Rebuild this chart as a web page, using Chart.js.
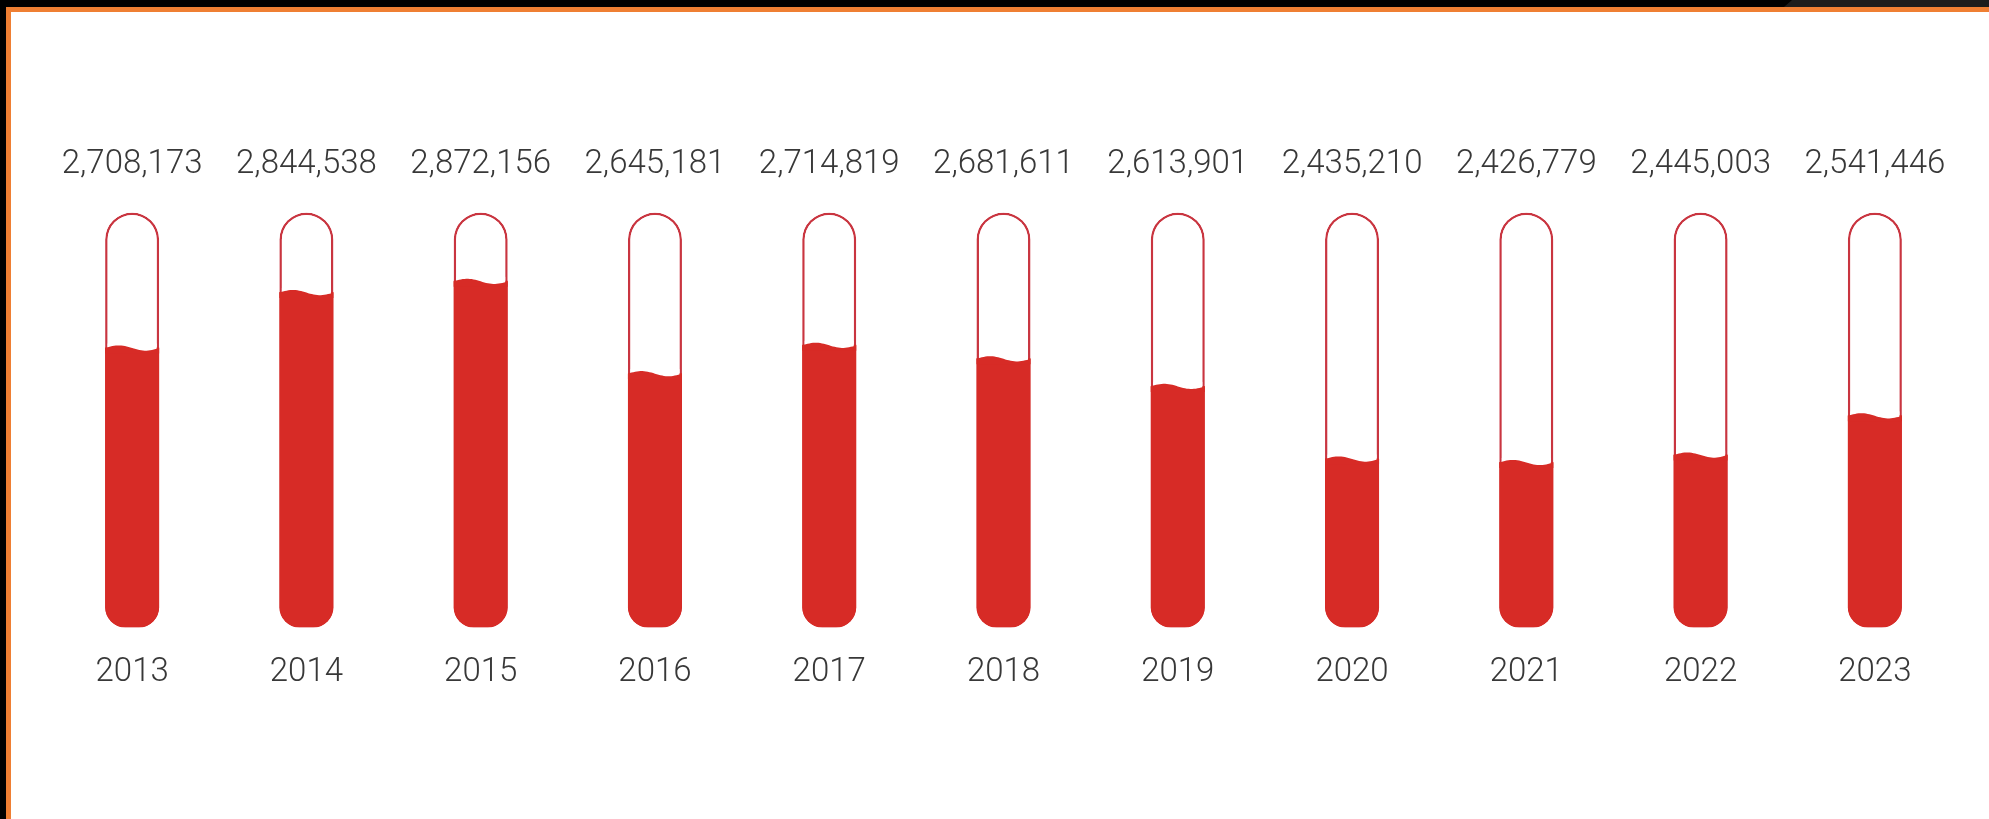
<!DOCTYPE html>
<html>
<head>
<meta charset="utf-8">
<script src="https://cdn.jsdelivr.net/npm/chart.js@4"></script>
<style>
    html, body { margin: 0; padding: 0; background: #000; width: 1989px; height: 819px; overflow: hidden; }
    #corner { position: absolute; top: 0; right: 0; width: 205px; height: 7px; background: #1c1c1c;
        clip-path: polygon(8px 0, 100% 0, 100% 100%, 0 100%); }
    #frame { position: absolute; left: 6px; top: 7px; width: 1978px; height: 807px; background: #fff;
        border-left: 5px solid #ef7f33; border-top: 5px solid #ef7f33; }
    #frame canvas { display: block; }
</style>
</head>
<body>
<div id="corner"></div>
<div id="frame"><canvas id="tubeChart" width="1978" height="807"></canvas></div>
<script>
const years = ["2013", "2014", "2015", "2016", "2017", "2018", "2019", "2020", "2021", "2022", "2023"];
const visitors = [2708173, 2844538, 2872156, 2645181, 2714819, 2681611, 2613901, 2435210, 2426779, 2445003, 2541446];
const valueLabels = visitors.map(v => v.toLocaleString("en-US"));

// tube goes from the bottom of the scale to its top
const scaleMin = 2020000;
const scaleMax = 3040000;
const tubeTops = years.map(() => scaleMax);

const fillRed = "#d72b26";
const tubeRed = "#c93540";
const textGrey = "#383838";
const tubeBorder = 2.5;

// paints a small wave on the liquid surface of every filled bar
const wavePlugin = {
    id: "wave",
    afterDatasetsDraw(chart) {
        const ctx = chart.ctx;
        chart.getDatasetMeta(0).data.forEach(bar => {
            const left = bar.x - bar.width / 2;
            const w = bar.width;
            ctx.save();
            ctx.fillStyle = "#fff";
            ctx.fillRect(left + tubeBorder, bar.y - 4, w - tubeBorder * 2, 8.5);
            ctx.beginPath();
            ctx.moveTo(left, bar.y + 6);
            for (let i = 0; i <= 30; i++) {
                const t = i / 30;
                ctx.lineTo(left + t * w, bar.y + 0.5 - 2.6 * Math.sin(2 * Math.PI * t));
            }
            ctx.lineTo(left + w, bar.y + 6);
            ctx.closePath();
            ctx.fillStyle = fillRed;
            ctx.fill();
            ctx.restore();
        });
    }
};

const tickFont = { family: "Roboto", size: 33, weight: 300, lineHeight: 1.2 };

new Chart(document.getElementById("tubeChart"), {
    type: "bar",
    data: {
        labels: years,
        datasets: [{
            data: visitors,
            base: scaleMin,
            backgroundColor: fillRed,
            borderWidth: 0,
            borderSkipped: false,
            borderRadius: { topLeft: 0, topRight: 0, bottomLeft: 20, bottomRight: 20 },
            grouped: false,
            barPercentage: 0.31,
            categoryPercentage: 1
        }, {
            data: tubeTops,
            base: scaleMin,
            backgroundColor: "#fff",
            borderColor: tubeRed,
            borderWidth: tubeBorder,
            borderSkipped: false,
            borderRadius: { topLeft: 27, topRight: 27, bottomLeft: 20, bottomRight: 20 },
            grouped: false,
            barPercentage: 0.31,
            categoryPercentage: 1
        }]
    },
    options: {
        responsive: false,
        animation: false,
        layout: { padding: { top: 105, bottom: 101, left: 34, right: 27 } },
        plugins: { legend: { display: false }, tooltip: { enabled: false } },
        scales: {
            y: { display: false, min: scaleMin, max: scaleMax },
            x: {
                position: "bottom",
                offset: true,
                grid: { display: false, drawTicks: false },
                border: { display: false },
                ticks: { color: textGrey, font: tickFont, padding: 25.5, maxRotation: 0 }
            },
            xTop: {
                type: "category",
                position: "top",
                labels: valueLabels,
                offset: true,
                grid: { display: false, drawTicks: false },
                border: { display: false },
                ticks: { color: textGrey, font: tickFont, padding: 28, maxRotation: 0, autoSkip: false }
            }
        }
    },
    plugins: [wavePlugin]
});
</script>
</body>
</html>
